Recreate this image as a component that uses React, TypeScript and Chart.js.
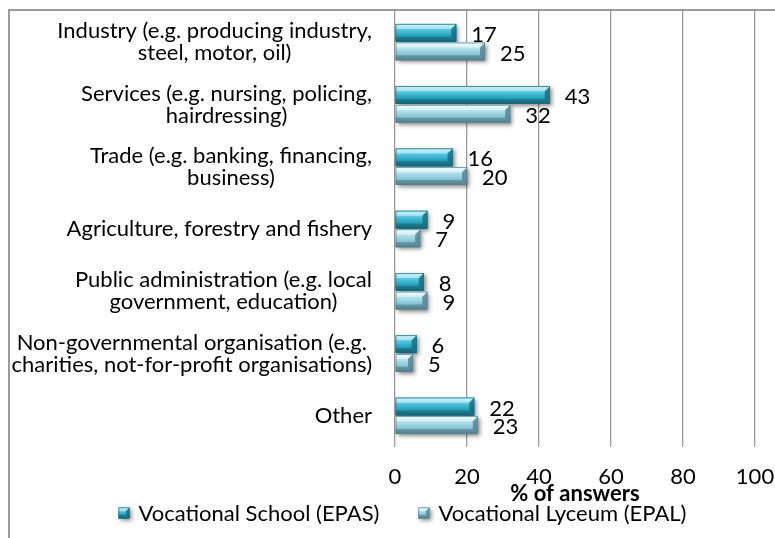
import React, { useEffect, useRef } from 'react';
import { Chart, registerables } from 'chart.js';

Chart.register(...registerables);

// ---- data ----
const categories: string[][] = [
  ['Industry (e.g. producing industry,', 'steel, motor, oil)'],
  ['Services (e.g. nursing, policing,', 'hairdressing)'],
  ['Trade (e.g. banking, financing,', 'business)'],
  ['Agriculture, forestry and fishery'],
  ['Public administration (e.g. local', 'government, education)'],
  ['Non-governmental organisation (e.g.', 'charities, not-for-profit organisations)'],
  ['Other'],
];
const vocationalSchool = [17, 43, 16, 9, 8, 6, 22];
const vocationalLyceum = [25, 32, 20, 7, 9, 5, 23];
const seriesNames = ['Vocational School (EPAS)', 'Vocational Lyceum (EPAL)'];
const xMin = 0;
const xMax = 100;
const xStep = 20;
const xTitle = '% of answers';

// ---- styles ----
const FONT = 'Lato, "Open Sans", sans-serif';
const FS = 22;
const PALETTES = [
  { hi: '#9ae6f2', top: '#5cc9df', mid: '#2ca8c3', low: '#1c7e97', edge: '#166a80' },
  { hi: '#e4f8fc', top: '#b6e3ee', mid: '#8ecbdb', low: '#66a0b1', edge: '#557f8d' },
];

function draw3DRect(ctx: CanvasRenderingContext2D, left: number, top: number, w: number, h: number, pal: any, shadow: boolean) {
  const right = left + w;
  const bot = top + h;
  if (w <= 0) return;
  if (shadow) {
    ctx.save();
    ctx.shadowColor = 'rgba(0,0,0,0.45)';
    ctx.shadowBlur = 4;
    ctx.shadowOffsetX = 2;
    ctx.shadowOffsetY = 2;
    ctx.fillStyle = pal.mid;
    ctx.fillRect(left, top, w, h);
    ctx.restore();
  }
  const g = ctx.createLinearGradient(0, top, 0, bot);
  g.addColorStop(0, pal.hi);
  g.addColorStop(0.3, pal.top);
  g.addColorStop(0.6, pal.mid);
  g.addColorStop(1, pal.low);
  ctx.fillStyle = g;
  ctx.fillRect(left, top, w, h);
  const b = Math.min(5, w / 2, h / 3);
  ctx.fillStyle = 'rgba(255,255,255,0.45)';
  ctx.beginPath();
  ctx.moveTo(left, top);
  ctx.lineTo(right, top);
  ctx.lineTo(right - b, top + b);
  ctx.lineTo(left, top + b);
  ctx.closePath();
  ctx.fill();
  ctx.fillStyle = 'rgba(0,0,0,0.2)';
  ctx.beginPath();
  ctx.moveTo(left, bot);
  ctx.lineTo(right, bot);
  ctx.lineTo(right - b, bot - b);
  ctx.lineTo(left, bot - b);
  ctx.closePath();
  ctx.fill();
  ctx.fillStyle = pal.edge;
  ctx.globalAlpha = 0.8;
  ctx.beginPath();
  ctx.moveTo(right, top);
  ctx.lineTo(right, bot);
  ctx.lineTo(right - b, bot - b);
  ctx.lineTo(right - b, top + b);
  ctx.closePath();
  ctx.fill();
  ctx.globalAlpha = 1;
  ctx.strokeStyle = pal.edge;
  ctx.lineWidth = 0.7;
  ctx.strokeRect(left + 0.35, top + 0.35, w - 0.7, h - 0.7);
}

const bar3dPlugin = {
  id: 'bar3d',
  afterDatasetsDraw(chart: any) {
    const ctx: CanvasRenderingContext2D = chart.ctx;
    chart.data.datasets.forEach((ds: any, di: number) => {
      const meta = chart.getDatasetMeta(di);
      const pal = PALETTES[di];
      meta.data.forEach((el: any) => {
        const p = el.getProps(['x', 'y', 'base', 'height'], true);
        const left = Math.min(p.base, p.x);
        const right = Math.max(p.base, p.x);
        draw3DRect(ctx, left, p.y - p.height / 2, right - left, p.height, pal, true);
      });
    });
    ctx.save();
    ctx.font = `${FS}px ${FONT}`;
    ctx.fillStyle = '#000';
    ctx.textAlign = 'left';
    ctx.textBaseline = 'middle';
    chart.data.datasets.forEach((ds: any, di: number) => {
      const meta = chart.getDatasetMeta(di);
      meta.data.forEach((el: any, i: number) => {
        const p = el.getProps(['x', 'y'], true);
        ctx.fillText(String(ds.data[i]), p.x + 15, p.y + 2);
      });
    });
    ctx.restore();
  },
  afterDraw(chart: any) {
    const ctx: CanvasRenderingContext2D = chart.ctx;
    const yScale = chart.scales.y;
    ctx.save();
    ctx.font = `${FS}px ${FONT}`;
    ctx.fillStyle = '#000';
    ctx.textAlign = 'center';
    ctx.textBaseline = 'middle';
    const lineH = 22;
    const rightEdge = yScale.right - 23;
    categories.forEach((lines, i) => {
      const cy = yScale.getPixelForTick(i);
      const w = Math.max(...lines.map((l) => ctx.measureText(l).width));
      const cx = rightEdge - w / 2;
      lines.forEach((l, li) => {
        const y = cy + (li - (lines.length - 1) / 2) * lineH;
        ctx.fillText(l, cx, y);
      });
    });
    // legend
    const box = 11;
    const gapText = 9;
    const gapItems = 39;
    const widths = seriesNames.map((n) => box + gapText + ctx.measureText(n).width);
    const total = widths.reduce((a, b) => a + b, 0) + gapItems * (widths.length - 1);
    let x = chart.width / 2 + 10 - total / 2;
    const ly = chart.height - 25;
    ctx.textAlign = 'left';
    seriesNames.forEach((n, i) => {
      draw3DRect(ctx, x, ly - box / 2, box, box, PALETTES[i], true);
      ctx.fillStyle = '#000';
      ctx.fillText(n, x + box + gapText, ly + 1);
      x += widths[i] + gapItems;
    });
    ctx.restore();
  },
};

export default function App() {
  const canvasRef = useRef<HTMLCanvasElement | null>(null);

  useEffect(() => {
    if (!canvasRef.current) return;
    const chart = new Chart(canvasRef.current, {
      type: 'bar',
      data: {
        labels: categories,
        datasets: [
          {
            label: seriesNames[0],
            data: vocationalSchool,
            backgroundColor: PALETTES[0].mid,
            categoryPercentage: 0.6,
            barPercentage: 0.95,
          },
          {
            label: seriesNames[1],
            data: vocationalLyceum,
            backgroundColor: PALETTES[1].mid,
            categoryPercentage: 0.6,
            barPercentage: 0.95,
          },
        ],
      },
      options: {
        indexAxis: 'y',
        animation: false,
        responsive: true,
        maintainAspectRatio: false,
        layout: { padding: { left: 0, right: 20, top: 0, bottom: 31 } },
        plugins: {
          legend: { display: false },
          tooltip: { enabled: false },
        },
        scales: {
          x: {
            type: 'linear',
            min: xMin,
            max: xMax,
            ticks: {
              stepSize: xStep,
              color: '#000',
              font: { family: FONT, size: FS },
              padding: 17,
            },
            grid: { color: '#9a9a9a', lineWidth: 1.3, drawTicks: false },
            border: { display: false },
            title: {
              display: true,
              text: xTitle,
              color: '#000',
              font: { family: FONT, size: FS, weight: 'bold' },
              padding: { top: 0, bottom: 0 },
            },
            afterFit: (scale: any) => {
              scale.height = 60;
              scale.paddingLeft = 0;
              scale.paddingRight = 0;
            },
          },
          y: {
            type: 'category',
            offset: true,
            grid: { display: false },
            border: { display: false },
            ticks: {
              color: 'rgba(0,0,0,0)',
              font: { family: FONT, size: FS },
            },
            afterFit: (scale: any) => {
              scale.width = 385;
              scale.paddingTop = 0;
              scale.paddingBottom = 0;
            },
          },
        },
      },
      plugins: [bar3dPlugin],
    });
    return () => chart.destroy();
  }, []);

  return (
    <div
      style={{
        position: 'fixed',
        left: 8,
        top: 9,
        width: 767,
        height: 529,
        borderLeft: '2px solid #9a9a9a',
        borderTop: '2px solid #9a9a9a',
        boxSizing: 'border-box',
        background: '#fff',
      }}
    >
      <canvas ref={canvasRef} />
    </div>
  );
}
